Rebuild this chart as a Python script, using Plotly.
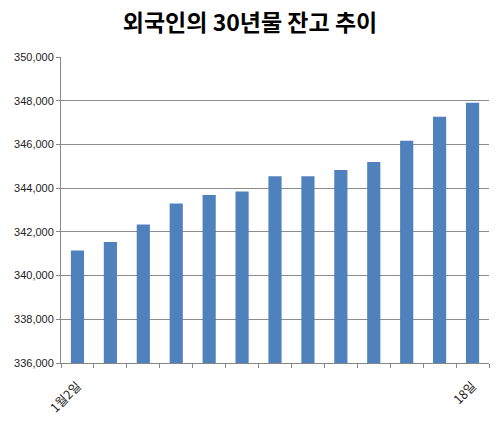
import plotly.graph_objects as go

# 2013년 1월 거래일
days = ["1월2일", "3일", "4일", "7일", "8일", "9일", "10일",
        "11일", "14일", "15일", "16일", "17일", "18일"]
balance = [341150, 341540, 342340, 343300, 343690, 343850, 344540,
           344540, 344830, 345200, 346170, 347270, 347910]
shown_labels = ["1월2일", "", "", "", "", "", "", "", "", "", "", "", "18일"]

y_ticks = list(range(336000, 350001, 2000))

fig = go.Figure(
    go.Bar(
        x=days,
        y=balance,
        marker=dict(color="#4F81BD", line=dict(width=0)),
        width=0.4,
    )
)

fig.update_layout(
    width=500,
    height=422,
    paper_bgcolor="white",
    plot_bgcolor="white",
    margin=dict(l=61, r=11, t=57, b=59, autoexpand=False),
    showlegend=False,
    title=dict(
        text="<b>외국인의 30년물 잔고 추이</b>",
        x=0.5,
        xanchor="center",
        y=1 - 23 / 422,
        yanchor="middle",
        font=dict(family="Noto Sans CJK KR", size=23, color="black"),
    ),
    font=dict(family="Noto Sans CJK KR", color="#222222"),
)

fig.update_xaxes(
    type="category",
    tickmode="array",
    tickvals=days,
    ticktext=shown_labels,
    tickson="boundaries",
    ticks="outside",
    ticklen=4,
    tickcolor="#868686",
    tickangle=-45,
    ticklabelstandoff=10,
    tickfont=dict(size=12.5, color="#222222"),
    showline=True,
    linecolor="#868686",
    linewidth=1,
    showgrid=False,
)

fig.update_yaxes(
    range=[336000, 350000],
    tickmode="array",
    tickvals=y_ticks,
    tickformat=",",
    ticks="outside",
    ticklen=4,
    tickcolor="#868686",
    tickfont=dict(family="Liberation Sans", size=11, color="#222222"),
    showline=True,
    linecolor="#868686",
    linewidth=1,
    showgrid=True,
    gridcolor="#8C8C8C",
    gridwidth=1,
    zeroline=False,
)

# 페이지 기본 여백 제거
fig.write_html(
    "out.html",
    config={"displayModeBar": False},
    post_script="document.body.style.margin='0';",
)
